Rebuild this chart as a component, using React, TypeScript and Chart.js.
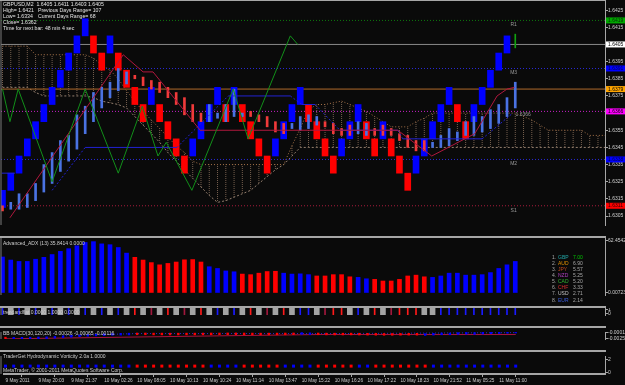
import React, { useEffect, useRef } from 'react';
import { Chart, registerables } from 'chart.js';

Chart.register(...registerables);

const FONT = '"Liberation Sans", Arial, sans-serif';
const BG = '#0a0a0a';
const FRAME = '#a6a6a6';
const LABEL = '#cfcfcf';
const BLUE = '#0000ff';
const RED = '#ff0000';

const X_MIN = -0.18;
const X_MAX = 72.85;

// ---------------- header / texts
const headerLeft = ['GBPUSD,M2  1.6405 1.6411 1.6403 1.6405', 'High= 1.6421', 'Low= 1.6334', 'Close= 1.6362', 'Time for next bar: 48 min 4 sec'];
const headerRight = ['', 'Previous Days Range= 107', 'Current Days Range= 68', '', ''];

// ---------------- main price panel
const PRICE_MIN = 1.62998;
const PRICE_MAX = 1.64309;
const priceTicks = [1.6305, 1.6315, 1.6325, 1.6335, 1.6345, 1.6355, 1.6365, 1.6375, 1.6385, 1.6395, 1.6405, 1.6415, 1.6425];

const BRICK = 0.001;
const brickLow = [
  1.6310, 1.6320, 1.6330, 1.6340, 1.6350, 1.6360, 1.6370, 1.6380, 1.6390, 1.6400,
  1.6410, 1.6400, 1.6390, 1.6400, 1.6390, 1.6380, 1.6370, 1.6360, 1.6370, 1.6360,
  1.6350, 1.6340, 1.6330, 1.6340, 1.6350, 1.6360, 1.6370, 1.6360, 1.6370, 1.6360,
  1.6350, 1.6340, 1.6330, 1.6340, 1.6350, 1.6360, 1.6370, 1.6360, 1.6350, 1.6340,
  1.6330, 1.6340, 1.6350, 1.6360, 1.6350, 1.6340, 1.6350, 1.6340, 1.6330, 1.6320,
  1.6330, 1.6340, 1.6350, 1.6360, 1.6370, 1.6360, 1.6350, 1.6360, 1.6370, 1.6380,
  1.6390, 1.6400,
];
const brickDir =
  'uuuuuuuuuuu' + 'dd' + 'u' + 'dddd' + 'u' + 'dddd' + 'uuuu' + 'd' + 'u' + 'dddd' + 'uuuu' + 'dddd' + 'uuu' + 'dd' + 'u' + 'ddd' + 'uuuuu' + 'dd' + 'uuuuu';

const candleOpen = [
  1.6311, 1.6309, 1.6309, 1.6310, 1.6314, 1.6319, 1.6324, 1.6331, 1.6337, 1.6344,
  1.6353, 1.6360, 1.6368, 1.6374, 1.6378, 1.6382, 1.6387, 1.6386, 1.6384, 1.6383,
  1.6380, 1.6377, 1.6374, 1.6370, 1.6365, 1.6360, 1.6362, 1.6360, 1.6363, 1.6363,
  1.6366, 1.6364, 1.6363, 1.6360, 1.6359, 1.6356, 1.6355, 1.6356, 1.6358, 1.6360,
  1.6359, 1.6356, 1.6358, 1.6353, 1.6352, 1.6356, 1.6358, 1.6356, 1.6353, 1.6352,
  1.6349, 1.6349, 1.6345, 1.6345, 1.6346, 1.6349, 1.6352, 1.6352, 1.6354, 1.6356,
  1.6359, 1.6363, 1.6368,
];
const candleClose = [
  1.6308, 1.6313, 1.6318, 1.6318, 1.6324, 1.6335, 1.6342, 1.6349, 1.6352, 1.6364,
  1.6369, 1.6377, 1.6380, 1.6383, 1.6391, 1.6389, 1.6385, 1.6381, 1.6379, 1.6377,
  1.6374, 1.6370, 1.6364, 1.6360, 1.6360, 1.6370, 1.6365, 1.6370, 1.6379, 1.6365,
  1.6363, 1.6360, 1.6357, 1.6354, 1.6353, 1.6359, 1.6363, 1.6364, 1.6363, 1.6357,
  1.6353, 1.6352, 1.6352, 1.6360, 1.6359, 1.6352, 1.6352, 1.6352, 1.6349, 1.6345,
  1.6343, 1.6343, 1.6348, 1.6352, 1.6356, 1.6354, 1.6360, 1.6363, 1.6363, 1.6367,
  1.6370, 1.6374, 1.6383,
];
const currentSlot = 62;
const currentLow = 1.6403;
const currentHigh = 1.6411;

const cloudA = [
  1.6404, 1.6404, 1.6404, 1.6404, 1.6399, 1.6399, 1.6399, 1.6399, 1.6399, 1.6399,
  1.6399, 1.6397, 1.6393, 1.6390, 1.6385, 1.6378, 1.6372, 1.6366, 1.6361, 1.6356,
  1.6351, 1.6346, 1.6342, 1.6337, 1.6335, 1.6335, 1.6335, 1.6335, 1.6335, 1.6335,
  1.6335, 1.6335, 1.6335, 1.6335, 1.6335, 1.6346, 1.6356, 1.6367, 1.6370, 1.6370,
  1.6371, 1.6372, 1.6370, 1.6368, 1.6366, 1.6363, 1.6360, 1.6357, 1.6357, 1.6357,
  1.6360, 1.6362, 1.6365, 1.6365, 1.6365, 1.6365, 1.6365, 1.6365, 1.6365, 1.6365,
  1.6365, 1.6365, 1.6365, 1.6363, 1.6361, 1.6358, 1.6355, 1.6355, 1.6355, 1.6355,
  1.6355, 1.6352, 1.6352, 1.6352,
];
const cloudB = [
  1.6380, 1.6380, 1.6380, 1.6380, 1.6377, 1.6375, 1.6375, 1.6375, 1.6375, 1.6375,
  1.6375, 1.6374, 1.6372, 1.6371, 1.6370, 1.6368, 1.6363, 1.6358, 1.6353, 1.6348,
  1.6342, 1.6337, 1.6332, 1.6327, 1.6322, 1.6317, 1.6313, 1.6314, 1.6316, 1.6318,
  1.6320, 1.6324, 1.6328, 1.6332, 1.6335, 1.6340, 1.6345, 1.6345, 1.6345, 1.6345,
  1.6345, 1.6345, 1.6345, 1.6345, 1.6345, 1.6345, 1.6345, 1.6345, 1.6345, 1.6345,
  1.6345, 1.6345, 1.6345, 1.6345, 1.6345, 1.6345, 1.6345, 1.6345, 1.6345, 1.6345,
  1.6345, 1.6345, 1.6345, 1.6345, 1.6345, 1.6345, 1.6345, 1.6345, 1.6345, 1.6345,
  1.6345, 1.6345, 1.6345, 1.6345,
];

const zigSlots = [0, 0.9, 1.9, 6, 10, 14, 16.9, 18.8, 19.8, 22.9, 27.9, 29.7, 34.8, 35.7];
const zigPrices = [1.6379, 1.6360, 1.6379, 1.6325, 1.6379, 1.6330, 1.6369, 1.6340, 1.6348, 1.6320, 1.6379, 1.6350, 1.6410, 1.6405];

const crimSlots = [0.9, 14.6, 17, 18.2, 23.9, 47.8, 51.9, 57.1, 59.8, 61, 61.9];
const crimPrices = [1.6304, 1.6399, 1.6389, 1.6389, 1.6355, 1.6355, 1.6340, 1.6353, 1.6375, 1.6379, 1.6380];

const blueSlots = [-0.1, 1.5, 3, 6, 10, 21.1, 27.3, 34.8, 36.2, 37.8, 40.8, 47.8, 48.4, 58, 61.7];
const bluePrices = [1.6330, 1.6330, null, 1.6320, 1.6345, 1.6345, 1.6375, 1.6375, 1.6370, 1.6370, 1.6355, 1.6355, 1.6350, 1.6350, 1.6365];

const levelPrices = [1.6419, 1.6405, 1.6391, 1.6379, 1.6366, 1.6338, 1.6311];
const levelColors = ['#0d7a0d', '#8a8a8a', '#2a2ad8', '#b06a2c', '#c820c8', '#2a2ad8', '#a81c3c'];
const levelDash = [[1, 2], [], [1, 2], [], [1, 2], [1, 2], [1, 2]];
const levelBoxColors = ['#00a800', '#ffffff', '#0000ff', '#ffa500', '#ff00ff', '#0000ff', '#ff0000'];
const levelBoxText = ['#003000', '#000000', '#000050', '#000000', '#000000', '#000050', '#300000'];

const pivotNames = ['R1', 'M3', 'M2', 'S1'];
const pivotPrices = [1.6419, 1.6391, 1.6338, 1.6311];
const pivotSlot = 61.8;

// ---------------- ADX panel
const adxValues = [
  43.0, 39.3, 37.6, 37.6, 40.3, 42.6, 46.0, 49.8, 53.1, 56.6,
  60.6, 61.6, 58.9, 57.9, 54.5, 47.7, 42.6, 39.3, 36.2, 33.5,
  35.2, 36.9, 39.6, 39.9, 36.9, 31.2, 29.1, 26.1, 25.1, 22.3,
  21.6, 23.4, 25.4, 25.7, 23.4, 22.3, 22.6, 21.6, 20.0, 20.0,
  21.6, 21.6, 19.0, 18.3, 16.6, 15.9, 13.9, 13.9, 15.9, 20.0,
  21.0, 19.0, 18.3, 20.0, 23.4, 23.4, 21.0, 21.0, 21.6, 24.1,
  29.1, 33.5, 37.6,
];
const adxDir = 'bbbbbbbbbbbbbbbb' + 'rrrrrrrrr' + 'bbbb' + 'rrrrr' + 'bbbb' + 'rrrrr' + 'bb' + 'rrrrrrr' + 'bbbbbbbbbbb';
const adxTicks = [0.00723, 62.4542];
const adxTickLabels = ['0.00723', '62.4542'];

const strengthNames = ['GBP', 'AUD', 'JPY', 'NZD', 'CAD', 'CHF', 'USD', 'EUR'];
const strengthValues = [7.00, 6.90, 5.57, 5.25, 5.20, 3.33, 2.71, 2.14];
const strengthColors = ['#22a8a8', '#e09000', '#c04a20', '#b040c0', '#30b030', '#d83030', '#c0c0c0', '#3a5ad8'];

// ---------------- trend panel
const trendState = 'bgbgbgbgbgbgbgbg' + 'rgdgrgdgrgbgbgrgdgrgbb' + 'gdrrgbgrgdrrrgg' + 'bbbbbbbbbb';

// ---------------- MACD panel
const macdValues = [
  -0.00246, -0.00253, -0.00253, -0.00246, -0.00239, -0.00232, -0.00211, -0.00190, -0.00170, -0.00149,
  -0.00128, -0.00114, -0.00100, -0.00086, -0.00079, -0.00072, -0.00065, -0.00065, -0.00070, -0.00070,
  -0.00072, -0.00072, -0.00070, -0.00070, -0.00068, -0.00065, -0.00065, -0.00062, -0.00062, -0.00065,
  -0.00068, -0.00070, -0.00070, -0.00068, -0.00065, -0.00062, -0.00047, -0.00056, -0.00065, -0.00070,
  -0.00072, -0.00072, -0.00070, -0.00075, -0.00079, -0.00082, -0.00086, -0.00086, -0.00082, -0.00079,
  -0.00079, -0.00093, -0.00079, -0.00065, -0.00065, -0.00047, -0.00038, -0.00047, -0.00034, -0.00020,
  -0.00010, 0.00004, 0.00014,
];
const macdDir = 'r' + 'bbbbbbbbbbbbbbb' + 'rrrrrrrrrrrrrrrrrrrr' + 'bb' + 'rrrrrrrrrrrrr' + 'bbbbbbbbbbbb';
const macdSigSlots = [0, 26, 38, 62];
const macdSigValues = [-0.0028, -0.0015, -0.00093, -0.00093];
const macdAvgSlots = [7, 16, 40, 62];
const macdAvgValues = [-0.0015, -0.0005, -0.0005, -0.0001];
const MACD_MIN = -0.0028746;
const MACD_MAX = 0.0001775;
const macdTicks = [-0.0025, -0.0001];
const macdTickLabels = ['-0.0025', '-0.0001'];

// ---------------- vorticity panel
const vortLevel = 1.0;
const vortDir = 'bbbbbbbbbbbbbbbb' + 'rrrrrrrrr' + 'bbbb' + 'rrrrr' + 'bbbb' + 'rrrrr' + 'bb' + 'rrrrrrr' + 'bbbbbbbbbbb';

// ---------------- time axis
const timeLabels = ['9 May 2011', '9 May 20:03', '9 May 21:37', '10 May 02:26', '10 May 08:05', '10 May 10:13', '10 May 10:24', '10 May 11:14', '10 May 13:47', '10 May 15:22', '10 May 16:26', '10 May 17:22', '10 May 18:23', '10 May 21:52', '11 May 05:25', '11 May 11:00'];
const timeTickSlots = [0, 4, 8, 12, 16, 20, 24, 28, 32, 36, 40, 44, 48, 52, 56, 60];

// ---------------- helpers
const dirColor = (d: string) => (d === 'b' || d === 'u' ? BLUE : RED);

function dottedPattern(color: string): any {
  const c = document.createElement('canvas');
  c.width = 2;
  c.height = 2;
  const g = c.getContext('2d')!;
  g.fillStyle = color;
  g.fillRect(0, 0, 2, 1);
  return g.createPattern(c, 'repeat');
}

function makeY(min: number, max: number, values: number[], labels: string[]) {
  return {
    type: 'linear',
    position: 'right',
    min,
    max,
    bounds: 'data',
    afterBuildTicks: (s: any) => {
      s.ticks = values.map((v) => ({ value: v }));
    },
    afterFit: (s: any) => {
      s.width = 20;
      s.paddingTop = 0;
      s.paddingBottom = 0;
    },
    ticks: {
      autoSkip: false,
      padding: 0,
      color: LABEL,
      font: { family: FONT, size: 5 },
      callback: (_v: any, i: number) => labels[i],
    },
    grid: { drawOnChartArea: false, drawTicks: true, tickLength: 3, color: FRAME, lineWidth: 1 },
    border: { display: true, color: FRAME, width: 1 },
  };
}

function makeX(show: boolean) {
  return {
    type: 'linear',
    min: X_MIN,
    max: X_MAX,
    offset: false,
    bounds: 'data',
    display: show,
    afterBuildTicks: (s: any) => {
      s.ticks = timeTickSlots.map((v) => ({ value: v }));
    },
    afterFit: (s: any) => {
      s.height = 11;
      s.paddingLeft = 0;
      s.paddingRight = 0;
    },
    ticks: {
      autoSkip: false,
      maxRotation: 0,
      minRotation: 0,
      align: 'start',
      padding: 1,
      color: LABEL,
      font: { family: FONT, size: 4.7 },
      callback: (_v: any, i: number) => timeLabels[i],
    },
    grid: { drawOnChartArea: false, drawTicks: true, tickLength: 3, color: FRAME, lineWidth: 1 },
    border: { display: true, color: FRAME, width: 2 },
  };
}

function baseOptions(x: any, y: any) {
  return {
    responsive: false,
    animation: false,
    events: [],
    layout: { padding: { left: 1, right: 0, top: 0, bottom: 0 } },
    plugins: { legend: { display: false }, tooltip: { enabled: false } },
    scales: { x, y },
  };
}

function textPlugin(id: string, draw: (chart: any, ctx: CanvasRenderingContext2D) => void) {
  return {
    id,
    afterDraw(chart: any) {
      const ctx = chart.ctx;
      ctx.save();
      ctx.textBaseline = 'middle';
      draw(chart, ctx);
      ctx.restore();
    },
  };
}

function leftFrame(chart: any, ctx: CanvasRenderingContext2D) {
  const a = chart.chartArea;
  ctx.fillStyle = '#7a7a7a';
  ctx.fillRect(0.5, a.top, 1, a.bottom - a.top);
}

const lineDs = (xs: number[], ys: (number | null)[], color: string, extra: any = {}) => ({
  type: 'line',
  data: xs.map((x, i) => ({ x, y: ys[i] })),
  borderColor: color,
  borderWidth: 1,
  pointRadius: 0,
  tension: 0,
  ...extra,
});

// ---------------- configs
function mainConfig() {
  return {
    type: 'bar',
    data: {
      datasets: [
        {
          type: 'bar',
          data: cloudA.map((a, i) => ({ x: i, y: [a, cloudB[i]] })),
          backgroundColor: dottedPattern('#76604f'),
          barThickness: 1,
          inflateAmount: 0,
          grouped: false,
          order: 20,
        },
        lineDs(cloudA.map((_, i) => i), cloudA, '#a8744a', { borderDash: [1, 2], order: 19 }),
        lineDs(cloudB.map((_, i) => i), cloudB, '#968070', { borderDash: [2, 2], order: 19 }),
        ...levelPrices.map((p, k) =>
          lineDs([X_MIN, X_MAX], [p, p], levelColors[k], { borderDash: levelDash[k], order: 18 })
        ),
        {
          type: 'bar',
          data: brickLow.map((l, i) => ({ x: i, y: [l, l + BRICK] })),
          backgroundColor: brickLow.map((_, i) => dirColor(brickDir[i])),
          barThickness: 6,
          grouped: false,
          order: 10,
        },
        {
          type: 'bar',
          data: candleOpen.map((o, i) => ({ x: i, y: [o, candleClose[i]] })),
          backgroundColor: candleOpen.map((o, i) => (candleClose[i] >= o ? '#4a72e2' : '#f03a3a')),
          barThickness: 2,
          grouped: false,
          order: 9,
        },
        {
          type: 'bar',
          data: [{ x: currentSlot, y: [currentLow, currentHigh] }],
          backgroundColor: '#10a010',
          barThickness: 1,
          grouped: false,
          order: 8,
        },
        lineDs(blueSlots, bluePrices, '#2222d2', {
          order: 4,
          segment: {
            borderDash: (c: any) => (c.p0.parsed.y === c.p1.parsed.y ? undefined : [2, 2]),
          },
        }),
        lineDs(crimSlots, crimPrices, '#b0183e', { order: 3 }),
        lineDs(zigSlots, zigPrices, '#12901a', { order: 2 }),
      ],
    },
    options: baseOptions(
      makeX(false),
      makeY(PRICE_MIN, PRICE_MAX, priceTicks, priceTicks.map((v) => v.toFixed(4)))
    ),
    plugins: [
      textPlugin('mainText', (chart, ctx) => {
        leftFrame(chart, ctx);
        const xs = chart.scales.x;
        const ys = chart.scales.y;
        ctx.font = `5.2px ${FONT}`;
        ctx.fillStyle = '#e4e4e4';
        ctx.textAlign = 'left';
        headerLeft.forEach((t, k) => ctx.fillText(t, 3, 5 + k * 6));
        headerRight.forEach((t, k) => t && ctx.fillText(t, 38, 5 + k * 6));
        ctx.font = `5px ${FONT}`;
        ctx.fillStyle = '#9a9a9a';
        ctx.textAlign = 'center';
        pivotNames.forEach((n, k) =>
          ctx.fillText(n, xs.getPixelForValue(pivotSlot), ys.getPixelForValue(pivotPrices[k]) + 4.5)
        );
        ctx.textAlign = 'left';
        ctx.fillText(levelPrices[4].toFixed(4), xs.getPixelForValue(pivotSlot) + 2, ys.getPixelForValue(levelPrices[4]) + 3.5);
        levelPrices.forEach((p, k) => {
          const py = ys.getPixelForValue(p);
          ctx.fillStyle = levelBoxColors[k];
          ctx.fillRect(606, py - 3, 19, 6);
          ctx.fillStyle = levelBoxText[k];
          ctx.font = `5px ${FONT}`;
          ctx.fillText(p.toFixed(4), 608, py + 0.3);
        });
      }),
    ],
  };
}

function adxConfig() {
  return {
    type: 'bar',
    data: {
      datasets: [
        {
          type: 'bar',
          data: adxValues.map((v, i) => ({ x: i, y: v })),
          backgroundColor: adxValues.map((_, i) => dirColor(adxDir[i])),
          barThickness: 4,
          grouped: false,
        },
      ],
    },
    options: baseOptions(makeX(false), makeY(-3.05, 66.01, adxTicks, adxTickLabels)),
    plugins: [
      textPlugin('adxText', (chart, ctx) => {
        leftFrame(chart, ctx);
        ctx.font = `5px ${FONT}`;
        ctx.fillStyle = LABEL;
        ctx.textAlign = 'left';
        ctx.fillText('Advanced_ADX (13) 35.8414 0.0000', 3, 5.5);
        strengthNames.forEach((n, k) => {
          const yy = 19.5 + k * 6.1;
          ctx.fillStyle = '#a8a8a8';
          ctx.fillText(`${k + 1}.`, 552, yy);
          ctx.fillStyle = strengthColors[k];
          ctx.fillText(n, 558, yy);
          ctx.fillStyle = k === 0 ? '#00c800' : '#a8a8a8';
          ctx.fillText(strengthValues[k].toFixed(2), 573, yy);
        });
      }),
    ],
  };
}

function trendConfig() {
  const idx = trendState.split('').map((_, i) => i);
  const greys = idx.filter((i) => trendState[i] === 'g');
  const lines = idx.filter((i) => trendState[i] !== 'g');
  const col: any = { b: '#1a1aff', r: '#ff1a1a', d: '#a0183c' };
  return {
    type: 'bar',
    data: {
      datasets: [
        {
          type: 'bar',
          data: greys.map((i) => ({ x: i, y: [-0.22, 1.24] })),
          backgroundColor: '#a4a4a4',
          barThickness: 5,
          grouped: false,
        },
        {
          type: 'bar',
          data: lines.map((i) => ({ x: i, y: [-0.22, 1.24] })),
          backgroundColor: lines.map((i) => col[trendState[i]]),
          barThickness: 1,
          grouped: false,
        },
      ],
    },
    options: baseOptions(makeX(false), makeY(-0.22, 1.24, [0, 1], ['0', '1'])),
    plugins: [
      textPlugin('trendText', (chart, ctx) => {
        leftFrame(chart, ctx);
        ctx.font = `5px ${FONT}`;
        ctx.fillStyle = LABEL;
        ctx.textAlign = 'left';
        ctx.fillText('trendandflat 0.0000 1.0000 0.0000', 3, 4.3);
      }),
    ],
  };
}

function macdConfig() {
  return {
    type: 'bar',
    data: {
      datasets: [
        lineDs(macdSigSlots, macdSigValues, '#a8143c', { order: 3 }),
        lineDs(macdAvgSlots, macdAvgValues, '#2a2ad0', { borderDash: [1, 2], order: 2 }),
        {
          type: 'line',
          data: macdValues.map((v, i) => ({ x: i, y: v })),
          showLine: false,
          pointStyle: 'rect',
          pointRadius: 1.7,
          pointBorderWidth: 0,
          pointBackgroundColor: macdValues.map((_, i) => dirColor(macdDir[i])),
          order: 1,
        },
      ],
    },
    options: baseOptions(makeX(false), makeY(MACD_MIN, MACD_MAX, macdTicks, macdTickLabels)),
    plugins: [
      textPlugin('macdText', (chart, ctx) => {
        leftFrame(chart, ctx);
        ctx.font = `5px ${FONT}`;
        ctx.fillStyle = LABEL;
        ctx.textAlign = 'left';
        ctx.fillText('BB MACD(30,120,20) -0.00026 -0.00065 -0.00116', 3, 5.3);
      }),
    ],
  };
}

function vortConfig() {
  const dirs = vortDir.split('');
  return {
    type: 'bar',
    data: {
      datasets: [
        {
          type: 'line',
          data: dirs.map((_, i) => ({ x: i, y: vortLevel })),
          showLine: false,
          pointStyle: 'rect',
          pointRadius: 2.1,
          pointBorderWidth: 0,
          pointBackgroundColor: dirs.map((d) => dirColor(d)),
        },
      ],
    },
    options: baseOptions(makeX(true), makeY(-0.156, 2.479, [0, 2], ['0', '2'])),
    plugins: [
      textPlugin('vortText', (chart, ctx) => {
        leftFrame(chart, ctx);
        ctx.font = `5px ${FONT}`;
        ctx.fillStyle = LABEL;
        ctx.textAlign = 'left';
        ctx.fillText('TraderGet Hydrodynamic Vorticity 2.0a 1.0000', 3, 4.8);
        ctx.fillText('MetaTrader, \u00a9 2001-2011 MetaQuotes Software Corp.', 3, 19);
      }),
    ],
  };
}

const panels = [
  { top: 0, height: 236, make: mainConfig },
  { top: 238, height: 68, make: adxConfig },
  { top: 308, height: 18, make: trendConfig },
  { top: 328, height: 22, make: macdConfig },
  { top: 352, height: 33, make: vortConfig },
];
const separators = [0, 236, 306, 326, 350];

export default function App() {
  const refs = useRef<(HTMLCanvasElement | null)[]>([]);

  useEffect(() => {
    document.body.style.margin = '0';
    document.body.style.background = BG;
    const charts: Chart[] = [];
    panels.forEach((p, k) => {
      const c = refs.current[k];
      if (c) charts.push(new Chart(c, p.make() as any));
    });
    return () => charts.forEach((c) => c.destroy());
  }, []);

  return (
    <div style={{ position: 'absolute', left: 0, top: 0, width: 625, height: 385, background: BG, overflow: 'hidden' }}>
      {panels.map((p, k) => (
        <canvas
          key={k}
          ref={(el) => {
            refs.current[k] = el;
          }}
          width={625}
          height={p.height}
          style={{ position: 'absolute', left: 0, top: p.top, width: 625, height: p.height, display: 'block' }}
        />
      ))}
      {separators.map((s, k) => (
        <div
          key={'s' + k}
          style={{ position: 'absolute', left: 0, top: s, width: 606, height: k === 0 ? 1 : 2, background: FRAME }}
        />
      ))}
    </div>
  );
}
